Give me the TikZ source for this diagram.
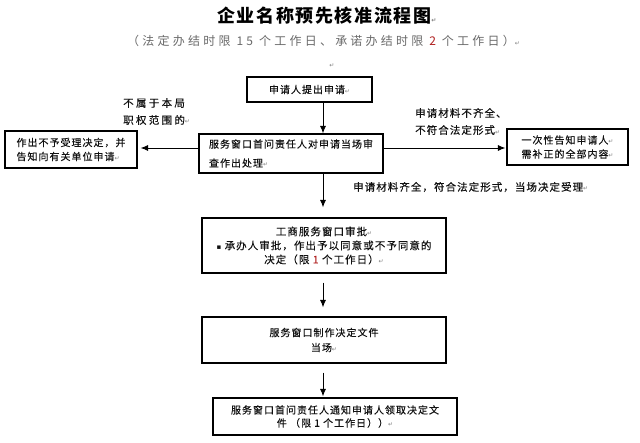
\documentclass[tikz,border=0pt]{standalone}
\usepackage{fontspec}
\usetikzlibrary{arrows.meta}
\setmainfont{Noto Sans CJK SC}
\newfontfamily\boxfont[LetterSpace=10,FakeBold=0.3]{Noto Sans CJK SC}
\newfontfamily\widefont[LetterSpace=22,FakeBold=0.3]{Noto Sans CJK SC}
\newfontfamily\subfont[LetterSpace=27]{Noto Sans CJK SC}
\newfontfamily\titlefont[LetterSpace=9]{Noto Sans CJK SC}
\newfontfamily\dejavu{DejaVu Sans}
\definecolor{inkc}{HTML}{111111}
\definecolor{subc}{HTML}{6A6A6A}
\definecolor{redc}{HTML}{B02020}
\newcommand\pmk{{\dejavu\fontsize{6}{6}\selectfont\textcolor{gray}{↵}}}
\newcommand\bul{{\dejavu\fontsize{7}{7}\selectfont ▪}}
\begin{document}
\begin{tikzpicture}[x=1pt,y=-1pt,
  box/.style={draw=black, line width=1.1pt, rectangle, inner sep=0pt, text=inkc,
    font=\boxfont\fontsize{10}{14}\selectfont},
  lbl/.style={inner sep=0pt, text=inkc, align=left},
  arr/.style={-{Latex[length=7.5pt,width=6pt]}, line width=0.9pt, draw=black}]
\useasboundingbox[fill=white] (0,0) rectangle (640,443);

% title and subtitle
\node[inner sep=0pt, anchor=west, text=black, font=\titlefont\bfseries\fontsize{18}{18}\selectfont]
  (title) at (217,16) {企业名称预先核准流程图\pmk};
\node[inner sep=0pt, anchor=west, text=subc, font=\subfont\fontsize{12}{12}\selectfont]
  (subtitle) at (127,41) {（法定办结时限 15 个工作日、承诺办结时限 \textcolor{redc}{2} 个工作日）\pmk};
\node[inner sep=0pt] (mark) at (332,66) {\pmk};

% boxes
\node[box, minimum width=125, minimum height=25] (box1) at (309.5,89.5) {申请人提出申请\pmk};
\node[box, minimum width=184, minimum height=39, align=left] (box2) at (291,153.5)
  {服务窗口首问责任人对申请当场审\\[5pt]查作出处理\pmk};
\node[box, minimum width=132, minimum height=37, align=left] (leftbox) at (71,149.5)
  {作出不予受理决定，并\\告知向有关单位申请\pmk};
\node[box, minimum width=121, minimum height=36, align=left] (rightbox) at (567.5,147)
  {一次性告知申请人\pmk\\需补正的全部内容\pmk};
\node[box, minimum width=244, minimum height=55, align=center, font=\boxfont\fontsize{10.5}{14}\selectfont] (box3) at (324,245.5)
  {工商服务窗口审批\pmk\\\bul\ 承办人审批，作出予以同意或不予同意的\\决定（限 \textcolor{redc}{1} 个工作日）\pmk};
\node[box, minimum width=244, minimum height=46, align=center] (box4) at (324,340)
  {服务窗口制作决定文件\\[1pt]当场\pmk};
\node[box, minimum width=244, minimum height=37, align=center] (box5) at (335,416.5)
  {服务窗口首问责任人通知申请人领取决定文\\[-1pt]件 （限 1 个工作日））\pmk};

% labels
\node[lbl, anchor=west, font=\widefont\fontsize{10.5}{17}\selectfont] (lblL) at (123,111.5)
  {不属于本局\\职权范围的\pmk};
\node[lbl, anchor=west, font=\boxfont\fontsize{10.5}{17}\selectfont] (lblR) at (415,121.5)
  {申请材料不齐全、\\不符合法定形式\pmk};
\node[lbl, anchor=west, font=\boxfont\fontsize{10.5}{17}\selectfont] (lblD) at (353,187)
  {申请材料齐全，符合法定形式，当场决定受理\pmk};

% connectors
\coordinate (ax) at (323,0);
\coordinate (hy) at (0,148);
\draw[arr] (box1.south -| ax) -- (box2.north -| ax);
\draw[arr, shorten >=10pt] (box2.south -| ax) -- (box3.north -| ax);
\draw[arr, shorten <=9pt, shorten >=9pt] (box3.south -| ax) -- (box4.north -| ax);
\draw[arr, shorten <=9pt, shorten >=1pt] (box4.south -| ax) -- (box5.north -| ax);
\draw[arr, shorten >=3pt] (box2.west |- hy) -- (leftbox.east |- hy);
\draw[arr, shorten >=1pt] (box2.east |- hy) -- (rightbox.west |- hy);
\end{tikzpicture}
\end{document}
